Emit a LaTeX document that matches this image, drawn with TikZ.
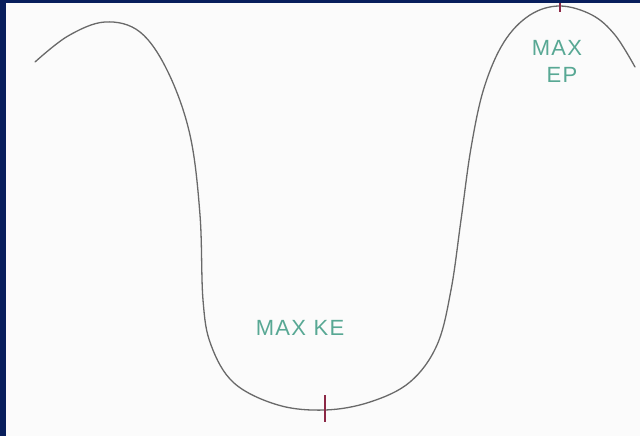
\documentclass[tikz,border=0pt]{standalone}
\usepackage{fontspec}
\setmainfont{Liberation Sans}
\newfontfamily\handfont[LetterSpace=6]{Liberation Sans}
\definecolor{navy}{RGB}{8,30,92}
\definecolor{paper}{RGB}{251,251,251}
\definecolor{curvegray}{RGB}{105,105,105}
\definecolor{tealtext}{RGB}{88,168,148}
\definecolor{tickred}{RGB}{140,40,70}
\tikzset{
  x=1pt, y=-1pt,
  curveline/.style={draw=curvegray, line width=1.3pt, line cap=round},
  label/.style={text=tealtext, font=\handfont\fontsize{22}{22}\selectfont, inner sep=0pt},
  tickmark/.style={draw=tickred, line width=2pt}
}
\begin{document}
\begin{tikzpicture}
\useasboundingbox (0,0) rectangle (640,436);
\fill[paper] (0,0) rectangle (640,436);
\fill[navy] (0,0) rectangle (6,436);
\draw[curveline] plot[smooth, tension=0.6] coordinates {
 (35,62) (68,36) (105,22) (140,32) (168,72) (190,135) (200,215)
 (203,300) (211,345) (234,383) (278,405) (325,410) (370,402) (410,382)
 (437,345) (451,290) (461,220) (471,148) (484,88) (504,42) (530,15)
 (560,6) (592,15) (615,35) (635,67)};
\coordinate (kb1) at (325,395);
\coordinate (kb2) at (325,422);
\draw[tickmark] (kb1) -- (kb2);
\coordinate (kt1) at (560,0);
\coordinate (kt2) at (560,12);
\draw[tickmark] (kt1) -- (kt2);
\fill[navy] (0,0) rectangle (640,3);
\node[label] (ke) at (300,328) {MAX KE};
\node[label] (ep1) at (557,48) {MAX};
\node[label] (ep2) at (562,75) {EP};
\end{tikzpicture}
\end{document}
